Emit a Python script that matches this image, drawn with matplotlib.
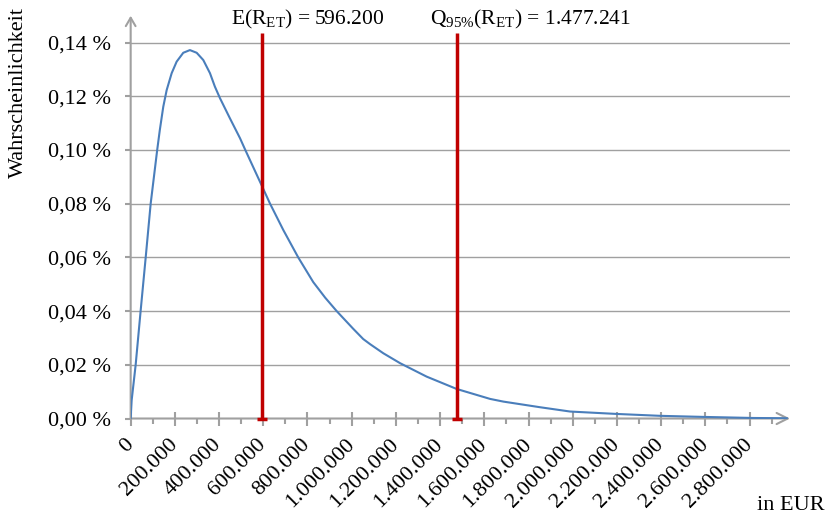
"""
Dichteverteilung der Risikokosten mit Erwartungswert und 95%-Quantil
"""

import matplotlib
matplotlib.use("Agg")
import matplotlib.pyplot as plt
from matplotlib.ticker import MultipleLocator, FuncFormatter

plt.rcParams["font.family"] = ["Liberation Serif", "DejaVu Serif"]
plt.rcParams["mathtext.fontset"] = "custom"
plt.rcParams["mathtext.rm"] = "Liberation Serif"
plt.rcParams["mathtext.it"] = "Liberation Serif:italic"

# Werte (x in EUR, y in %)
kosten = [0, 4500, 22600, 45000, 68000, 90500, 120000, 132000, 147500,
          162900, 185500, 208000, 238000, 268000, 298600, 328500, 358800,
          381000, 404000, 449000, 494600, 517000, 595500, 630000, 690500,
          758000, 826000, 880000, 932000, 1007000, 1052000, 1083000, 1143000,
          1219000, 1339000, 1475000, 1626000, 1686000, 1852000, 1988000,
          2199000, 2395000, 2591000, 2816000, 2968000]
wahrscheinlichkeit = [0.0, 0.0068, 0.020, 0.040, 0.060, 0.080, 0.100, 0.1075,
                      0.1161, 0.1223, 0.1286, 0.1329, 0.1362, 0.1372, 0.1362,
                      0.1335, 0.1286, 0.1236, 0.1193, 0.1118, 0.1044, 0.1003,
                      0.0863, 0.0801, 0.0702, 0.0600, 0.0508, 0.0450, 0.0400,
                      0.0334, 0.0296, 0.0277, 0.0243, 0.0206, 0.0156, 0.0110,
                      0.0073, 0.0063, 0.0042, 0.0026, 0.0017, 0.0010, 0.0006,
                      0.0002, 0.0001]

erwartungswert = 596200
quantil_95 = 1477241
linien_oben = 0.1435

grau = "#a0a0a0"
rot = "#c00000"
blau = "#4a7ebb"

fig = plt.figure(figsize=(8.27, 5.17), dpi=100)
ax = fig.add_axes([0.158, 0.1905, 0.7973, 0.7791])

ax.set_xlim(0, 2983000)
ax.set_ylim(0, 0.15)

# Gitterlinien
for v in [0.02, 0.04, 0.06, 0.08, 0.10, 0.12, 0.14]:
    ax.axhline(v, color=grau, lw=1.0, zorder=1)

ax.plot(kosten, wahrscheinlichkeit, color=blau, lw=1.5, zorder=3,
        solid_joinstyle="round")

# Erwartungswert und Quantil
for wert in [erwartungswert, quantil_95]:
    ax.plot([wert, wert], [0, linien_oben], color=rot, lw=2.5, zorder=4,
            clip_on=False, solid_capstyle="butt")
    ax.plot([wert], [0], marker="_", markersize=7, mew=2.5, color=rot,
            zorder=4, clip_on=False)

ax.annotate(r"E(R$_{\mathrm{ET}}$) = 596.200", xy=(erwartungswert, linien_oben),
            xytext=(-31 * 0.72, 6), textcoords="offset points",
            ha="left", va="baseline", fontsize=15.5, annotation_clip=False)
ax.annotate(r"Q$_{\mathrm{95\%}}$(R$_{\mathrm{ET}}$) = 1.477.241",
            xy=(quantil_95, linien_oben),
            xytext=(-27 * 0.72, 6), textcoords="offset points",
            ha="left", va="baseline", fontsize=15.5, annotation_clip=False)

# Achsen mit Pfeilspitzen
for s in ["top", "right", "left", "bottom"]:
    ax.spines[s].set_visible(False)
ax.annotate("", xy=(1, 0), xytext=(0, 0), xycoords="axes fraction",
            arrowprops=dict(arrowstyle="->,head_length=0.8,head_width=0.4",
                            color=grau, lw=1.5, shrinkA=0, shrinkB=0),
            zorder=2)
ax.annotate("", xy=(0, 1), xytext=(0, 0), xycoords="axes fraction",
            arrowprops=dict(arrowstyle="->,head_length=0.6,head_width=0.35",
                            color=grau, lw=1.5, shrinkA=0, shrinkB=0),
            zorder=2)

ax.xaxis.set_minor_locator(MultipleLocator(100000))
ax.set_xticks([t for t in range(0, 2800001, 200000)])
ax.xaxis.set_major_formatter(FuncFormatter(lambda v, p: f"{int(v):,}".replace(",", ".")))
ax.set_yticks([0, 0.02, 0.04, 0.06, 0.08, 0.10, 0.12, 0.14])
ax.yaxis.set_major_formatter(FuncFormatter(lambda v, p: f"{v:.2f}".replace(".", ",") + " %"))

ax.tick_params(axis="x", which="major", direction="inout", length=9.4,
               width=1.5, color=grau, labelsize=16, pad=12)
ax.tick_params(axis="x", which="minor", direction="out", length=3.6,
               width=1.5, color=grau)
ax.tick_params(axis="y", which="major", direction="out", length=4.3,
               width=1.5, color=grau, labelsize=16, pad=10)
for lab in ax.get_xticklabels():
    lab.set_rotation(45)
    lab.set_rotation_mode("anchor")
    lab.set_ha("right")
    lab.set_va("center")

fig.text(18 / 827, 1 - 92 / 517, "Wahrscheinlichkeit", rotation=90,
         ha="center", va="center", fontsize=16)
fig.text(825 / 827, 1 - 506 / 517, "in EUR", ha="right", va="center",
         fontsize=16)

fig.savefig("out.png", dpi=100)
